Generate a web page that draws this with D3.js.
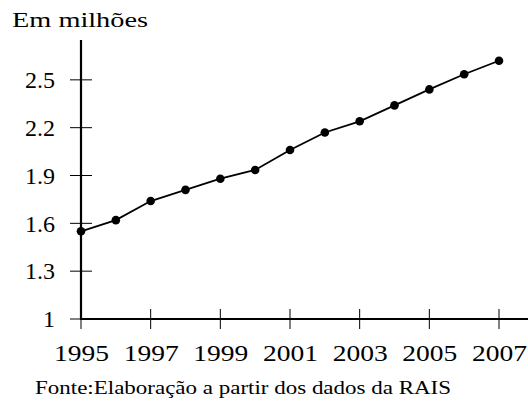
<!DOCTYPE html>
<html lang="pt">
<head>
    <meta charset="UTF-8">
    <title>Em milhões</title>
    <style>
        body { margin: 0; background: #fff; }
        svg text { font-family: "Liberation Serif", serif; fill: #000; }
    </style>
</head>
<body>
<svg id="chart" width="528" height="402"></svg>

<script src="https://d3js.org/d3.v7.min.js"></script>
<script>
    // Data
    var years = [1995, 1996, 1997, 1998, 1999, 2000, 2001, 2002, 2003, 2004, 2005, 2006, 2007];
    var values = [1.55, 1.62, 1.74, 1.81, 1.88, 1.935, 2.06, 2.17, 2.24, 2.34, 2.44, 2.535, 2.62];
    var yTicks = [1, 1.3, 1.6, 1.9, 2.2, 2.5];
    var xTicks = [1995, 1997, 1999, 2001, 2003, 2005, 2007];
    var unitLabel = "Em milhões";
    var sourceLabel = "Fonte:Elaboração a partir dos dados da RAIS";

    var svg = d3.select("#chart");

    var x = d3.scaleLinear().domain([1995, 2007]).range([81, 499]);
    var y = d3.scaleLinear().domain([1, 2.75]).range([319, 40]);

    // y axis
    svg.append("line")
        .attr("x1", x(1995)).attr("x2", x(1995))
        .attr("y1", y(1)).attr("y2", y(2.75))
        .attr("stroke", "#000").attr("stroke-width", 2.2);

    svg.selectAll(".ytick")
        .data(yTicks)
        .enter().append("line")
        .attr("class", "ytick")
        .attr("x1", x(1995) - 11).attr("x2", x(1995) + 11)
        .attr("y1", d => y(d)).attr("y2", d => y(d))
        .attr("stroke", "#000").attr("stroke-width", 1);

    svg.selectAll(".ylabel")
        .data(yTicks)
        .enter().append("text")
        .attr("class", "ylabel")
        .attr("x", 55)
        .attr("y", d => y(d))
        .attr("dy", "0.34em")
        .attr("text-anchor", "end")
        .style("font-size", "24px")
        .text(d => d);

    // x axis
    svg.append("line")
        .attr("x1", x(1995) - 1).attr("x2", 528)
        .attr("y1", y(1)).attr("y2", y(1))
        .attr("stroke", "#000").attr("stroke-width", 2.2);

    svg.selectAll(".xtick")
        .data(xTicks)
        .enter().append("line")
        .attr("class", "xtick")
        .attr("x1", d => x(d)).attr("x2", d => x(d))
        .attr("y1", y(1) - 10).attr("y2", y(1) + 10)
        .attr("stroke", "#000").attr("stroke-width", 1);

    svg.selectAll(".xlabel")
        .data(xTicks)
        .enter().append("text")
        .attr("class", "xlabel")
        .attr("x", d => x(d) - 27)
        .attr("y", 361)
        .attr("textLength", 55)
        .attr("lengthAdjust", "spacingAndGlyphs")
        .style("font-size", "24px")
        .text(d => d);

    // series
    var line = d3.line()
        .x((d, i) => x(years[i]))
        .y(d => y(d));

    svg.append("path")
        .datum(values)
        .attr("d", line)
        .attr("fill", "none")
        .attr("stroke", "#000")
        .attr("stroke-width", 1.8);

    svg.selectAll(".dot")
        .data(values)
        .enter().append("circle")
        .attr("class", "dot")
        .attr("cx", (d, i) => x(years[i]))
        .attr("cy", d => y(d))
        .attr("r", 4.3)
        .attr("fill", "#000");

    // texts
    svg.append("text")
        .attr("x", 12).attr("y", 27)
        .attr("textLength", 136)
        .attr("lengthAdjust", "spacingAndGlyphs")
        .style("font-size", "22px")
        .text(unitLabel);

    svg.append("text")
        .attr("x", 35).attr("y", 394)
        .attr("textLength", 416)
        .attr("lengthAdjust", "spacingAndGlyphs")
        .style("font-size", "18px")
        .text(sourceLabel);
</script>
</body>
</html>
